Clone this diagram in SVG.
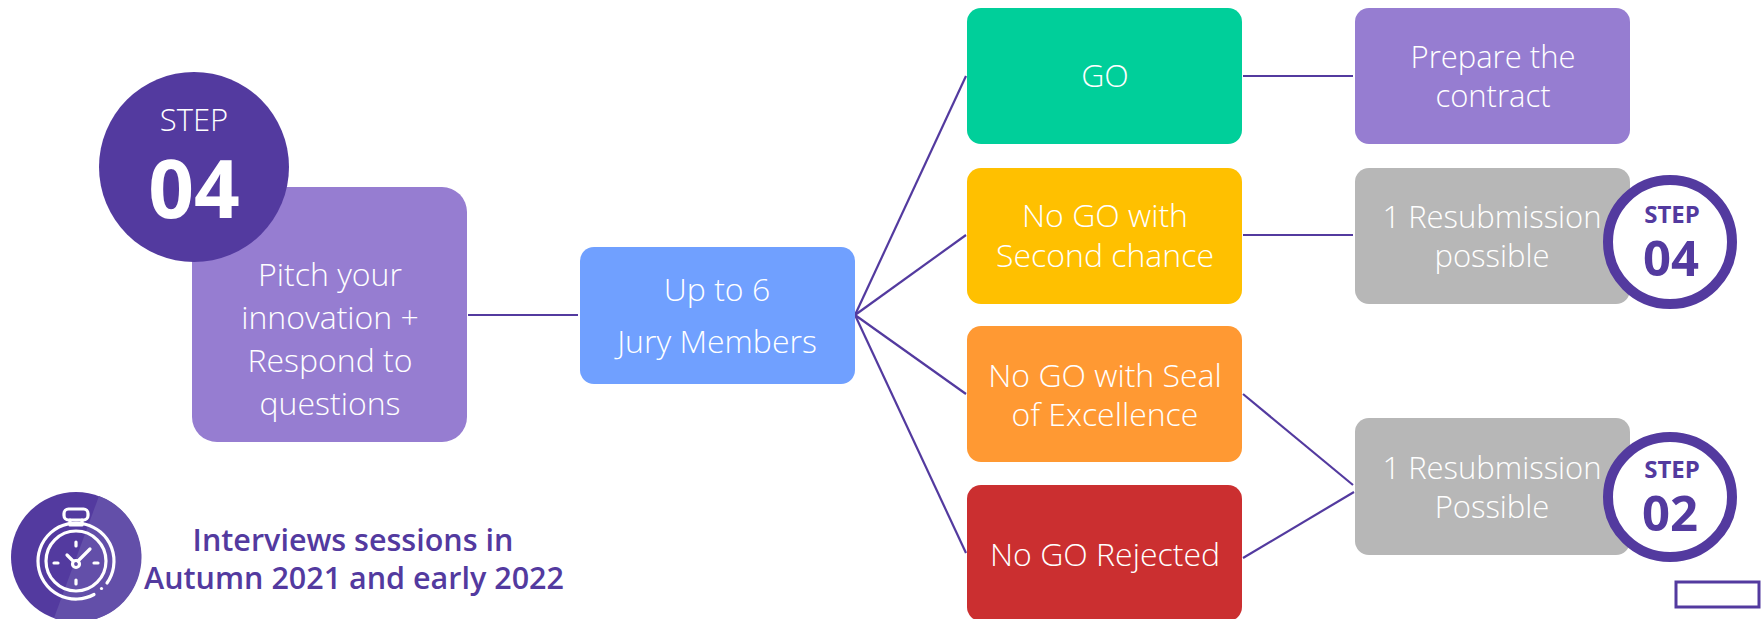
<svg xmlns="http://www.w3.org/2000/svg" width="1762" height="619" viewBox="0 0 1762 619">
<style>
.t{font-family:"Open Sans","Noto Sans","Liberation Sans",sans-serif;font-size:32px;font-weight:300;fill:#fff;text-anchor:middle}
.m{font-size:31px}
.c{stroke:#533a9f;stroke-width:2.2;fill:none}
.s{font-family:"Open Sans","Noto Sans","Liberation Sans",sans-serif;font-weight:600;fill:#533a9f;text-anchor:middle}
.b{font-family:"Open Sans","Noto Sans","Liberation Sans",sans-serif;font-weight:700;text-anchor:middle}
.i{fill:none;stroke:#fff;stroke-width:3.2;stroke-linecap:round}
</style>
<rect width="1762" height="619" fill="#fff"/>
<g id="connectors" class="c">
<path d="M468 315H578"/>
<path d="M855 315L966 76"/>
<path d="M855 315L966 235"/>
<path d="M855 315L966 394"/>
<path d="M855 315L966 553"/>
<path d="M1243 76H1353"/>
<path d="M1243 235H1353"/>
<path d="M1243 394L1353 485"/>
<path d="M1243 558L1354 492"/>
</g>
<g id="pitch"><rect x="192" y="187" width="275" height="255" rx="25" fill="#967dd1"/>
<text class="t" x="330" y="286">Pitch your</text><text class="t" x="330" y="329">innovation +</text><text class="t" x="330" y="372">Respond to</text><text class="t" x="330" y="415">questions</text></g>
<g id="step-main"><circle cx="194" cy="167" r="95" fill="#533a9f"/>
<text class="t m" x="194" y="131">STEP</text><text class="b" x="194" y="218" font-size="80" fill="#fff">04</text></g>
<g id="jury"><rect x="580" y="247" width="275" height="137" rx="14" fill="#70a0ff"/>
<text class="t" x="717" y="301">Up to 6</text><text class="t" x="717" y="353">Jury Members</text></g>
<g id="go"><rect x="967" y="8" width="275" height="136" rx="14" fill="#00cf9a"/><text class="t" x="1105" y="87">GO</text></g>
<g id="nogo-second"><rect x="967" y="168" width="275" height="136" rx="14" fill="#ffc000"/>
<text class="t" x="1105" y="227">No GO with</text><text class="t" x="1105" y="267">Second chance</text></g>
<g id="nogo-seal"><rect x="967" y="326" width="275" height="136" rx="14" fill="#ff9933"/>
<text class="t" x="1105" y="387">No GO with Seal</text><text class="t" x="1105" y="426">of Excellence</text></g>
<g id="nogo-rejected"><rect x="967" y="485" width="275" height="136" rx="14" fill="#cb2f30"/><text class="t" x="1105" y="566">No GO Rejected</text></g>
<g id="prepare"><rect x="1355" y="8" width="275" height="136" rx="14" fill="#967dd1"/>
<text class="t m" x="1493" y="68">Prepare the</text><text class="t m" x="1493" y="107">contract</text></g>
<g id="resub-1"><rect x="1355" y="168" width="275" height="136" rx="14" fill="#b7b7b7"/>
<text class="t m" x="1492" y="228">1 Resubmission</text><text class="t m" x="1492" y="267">possible</text></g>
<g id="resub-2"><rect x="1355" y="418" width="275" height="137" rx="14" fill="#b7b7b7"/>
<text class="t m" x="1492" y="479">1 Resubmission</text><text class="t m" x="1492" y="518">Possible</text></g>
<g id="step-04"><circle cx="1670" cy="242" r="62" fill="#fff" stroke="#533a9f" stroke-width="10"/>
<text class="s" x="1672" y="223" font-size="24" style="font-weight:700">STEP</text><text class="s" x="1671" y="276" font-size="49" style="font-weight:700">04</text></g>
<g id="step-02"><ellipse cx="1670" cy="497" rx="62" ry="60" fill="#fff" stroke="#533a9f" stroke-width="10"/>
<text class="s" x="1672" y="478" font-size="24" style="font-weight:700">STEP</text><text class="s" x="1670" y="531" font-size="49" style="font-weight:700">02</text></g>
<g id="clock">
<circle cx="76" cy="557" r="65" fill="#533a9f"/>
<path d="M99 496A65 65 0 0 1 54 618Z" fill="#634fa9"/>
<rect x="64" y="509" width="24" height="11" rx="4.5" class="i"/>
<path d="M70 520V525M82 520V525M70 525H82" class="i"/>
<path d="M94 594.5A38 38 0 1 1 107 583" class="i"/>
<path d="M101.500 588.500h.01" class="i"/>
<circle cx="76" cy="561" r="30" class="i"/>
<circle cx="76" cy="564" r="3.5" class="i"/>
<path d="M78 561L90 549M73 561L67 555M76 542V546M76 580V584M54 563H58M94 563H98" class="i"/>
</g>
<g id="caption"><text class="s" x="353" y="551" font-size="30.5">Interviews sessions in</text><text class="s" x="354" y="589" font-size="30.5">Autumn 2021 and early 2022</text></g>
<g id="empty-box"><rect x="1676" y="582" width="83" height="25" fill="#fff" stroke="#533a9f" stroke-width="3"/></g>
</svg>
